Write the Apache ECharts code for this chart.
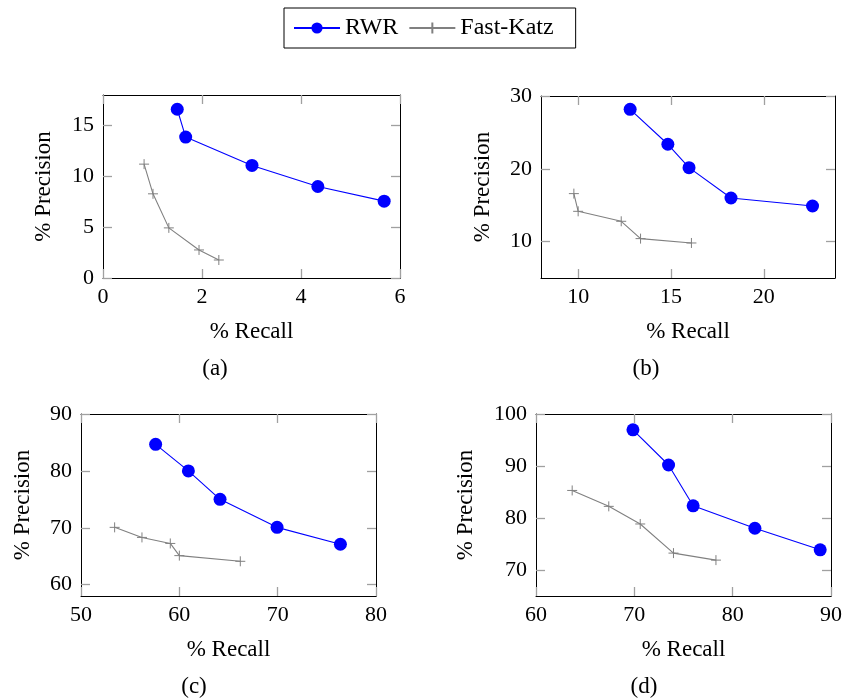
<!DOCTYPE html>
<html>
<head>
<meta charset="utf-8">
<script src="https://cdn.jsdelivr.net/npm/echarts@6/dist/echarts.min.js"></script>
<style>html,body{margin:0;padding:0;background:#fff}#c{width:845px;height:700px}</style>
</head>
<body>
<div id="c"></div>
<script>
// ---- data ----
const seriesNames = ['RWR', 'Fast-Katz'];
const panelCaptions = ['(a)', '(b)', '(c)', '(d)'];
const xAxisTitle = '% Recall';
const yAxisTitle = '% Precision';

const aRwrRecall = [1.50, 1.67, 3.01, 4.34, 5.68];
const aRwrPrecision = [16.6, 13.86, 11.07, 9.0, 7.56];
const aKatzRecall = [0.83, 1.01, 1.33, 1.94, 2.34];
const aKatzPrecision = [11.2, 8.28, 4.93, 2.76, 1.77];

const bRwrRecall = [12.8, 14.83, 15.97, 18.23, 22.62];
const bRwrPrecision = [28.17, 23.37, 20.16, 15.99, 14.89];
const bKatzRecall = [9.77, 10.0, 12.32, 13.36, 16.1];
const bKatzPrecision = [16.59, 14.16, 12.79, 10.41, 9.81];

const cRwrRecall = [57.59, 60.92, 64.14, 69.94, 76.38];
const cRwrPrecision = [84.67, 80.0, 75.0, 70.07, 67.1];
const cKatzRecall = [53.42, 56.2, 59.08, 60.0, 66.2];
const cKatzPrecision = [70.07, 68.3, 67.24, 65.1, 64.1];

const dRwrRecall = [69.86, 73.48, 75.98, 82.26, 88.9];
const dRwrPrecision = [96.96, 90.19, 82.35, 78.03, 73.88];
const dKatzRecall = [63.68, 67.4, 70.6, 73.98, 78.3];
const dKatzPrecision = [85.3, 82.24, 78.85, 73.25, 71.9];

const xTicksA = [0, 2, 4, 6];
const yTicksA = [0, 5, 10, 15];
const xTicksB = [10, 15, 20];
const yTicksB = [10, 20, 30];
const xTicksC = [50, 60, 70, 80];
const yTicksC = [60, 70, 80, 90];
const xTicksD = [60, 70, 80, 90];
const yTicksD = [70, 80, 90, 100];

// ---- layout / style ----
const FONT = "'Liberation Serif', 'DejaVu Serif', serif";
const FS = 22;
const FS_NAME = 23;
const panels = [
  {grid:{left:103, top:95, width:297, height:183}, xr:[0,6], yr:[0,18], xt:xTicksA, yt:yTicksA, ygap:48,
   rwr:[aRwrRecall, aRwrPrecision], katz:[aKatzRecall, aKatzPrecision], cap:[215,369]},
  {grid:{left:541, top:96, width:294, height:182}, xr:[8,23.83], yr:[5,30], xt:xTicksB, yt:yTicksB, ygap:47,
   rwr:[bRwrRecall, bRwrPrecision], katz:[bKatzRecall, bKatzPrecision], cap:[646,369]},
  {grid:{left:81, top:414, width:295, height:182}, xr:[50,80], yr:[58,90], xt:xTicksC, yt:yTicksC, ygap:47,
   rwr:[cRwrRecall, cRwrPrecision], katz:[cKatzRecall, cKatzPrecision], cap:[194,687]},
  {grid:{left:536, top:414, width:296, height:182}, xr:[60,90], yr:[65,100], xt:xTicksD, yt:yTicksD, ygap:59,
   rwr:[dRwrRecall, dRwrPrecision], katz:[dKatzRecall, dKatzPrecision], cap:[644,687]}
];

const zip = (xs, ys) => xs.map((x, i) => [x, ys[i]]);
const grids = [], xAxes = [], yAxes = [], series = [], graphics = [];
const tickStyle = {show:true, inside:true, length:9, lineStyle:{color:'#a0a0a0', width:1.3}};
const lineStyle = {show:true, onZero:false, lineStyle:{color:'#000', width:1}};

panels.forEach((p, i) => {
  grids.push(Object.assign({containLabel:false}, p.grid));
  xAxes.push({
    type:'value', gridIndex:i, position:'bottom', min:p.xr[0], max:p.xr[1],
    axisLine:lineStyle, splitLine:{show:false},
    axisTick:Object.assign({customValues:p.xt}, tickStyle),
    axisLabel:{customValues:p.xt, margin:8, fontFamily:FONT, fontSize:FS, color:'#000'},
    name:xAxisTitle, nameLocation:'middle', nameGap:42,
    nameTextStyle:{fontFamily:FONT, fontSize:FS_NAME, color:'#000'}
  });
  xAxes.push({
    type:'value', gridIndex:i, position:'top', min:p.xr[0], max:p.xr[1],
    axisLine:lineStyle, splitLine:{show:false},
    axisTick:Object.assign({customValues:p.xt}, tickStyle),
    axisLabel:{show:false}
  });
  yAxes.push({
    type:'value', gridIndex:i, position:'left', min:p.yr[0], max:p.yr[1],
    axisLine:lineStyle, splitLine:{show:false},
    axisTick:Object.assign({customValues:p.yt}, tickStyle),
    axisLabel:{customValues:p.yt, margin:9, fontFamily:FONT, fontSize:FS, color:'#000'},
    name:yAxisTitle, nameLocation:'middle', nameGap:p.ygap, nameRotate:90,
    nameTextStyle:{fontFamily:FONT, fontSize:FS_NAME, color:'#000'}
  });
  yAxes.push({
    type:'value', gridIndex:i, position:'right', min:p.yr[0], max:p.yr[1],
    axisLine:lineStyle, splitLine:{show:false},
    axisTick:Object.assign({customValues:p.yt}, tickStyle),
    axisLabel:{show:false}
  });
  series.push({
    name:seriesNames[0], type:'line', xAxisIndex:2*i, yAxisIndex:2*i,
    data:zip(p.rwr[0], p.rwr[1]), symbol:'circle', symbolSize:13,
    itemStyle:{color:'#0000ff'}, lineStyle:{color:'#0000ff', width:1.1}, z:3, animation:false
  });
  series.push({
    name:seriesNames[1], type:'line', xAxisIndex:2*i, yAxisIndex:2*i,
    data:zip(p.katz[0], p.katz[1]), symbol:'path://M0,5L10,5M5,0L5,10', symbolSize:10,
    itemStyle:{color:'#808080', borderColor:'#808080', borderWidth:1},
    lineStyle:{color:'#808080', width:1.1}, z:2, animation:false
  });
  graphics.push({
    type:'text', x:p.cap[0], y:p.cap[1],
    style:{text:panelCaptions[i], fill:'#000', font:FS_NAME + 'px ' + FONT, textAlign:'center', textVerticalAlign:'middle'}
  });
});

const chart = echarts.init(document.getElementById('c'), null, {renderer:'canvas'});
chart.setOption({
  animation:false,
  backgroundColor:'#fff',
  legend:{
    data:seriesNames, left:284, top:8, orient:'horizontal',
    padding:[8, 22, 8, 9], itemGap:10, itemWidth:46, itemHeight:14,
    borderColor:'#000', borderWidth:1,
    textStyle:{fontFamily:FONT, fontSize:24, color:'#000'}
  },
  grid:grids, xAxis:xAxes, yAxis:yAxes, series:series, graphic:graphics
});
</script>
</body>
</html>
